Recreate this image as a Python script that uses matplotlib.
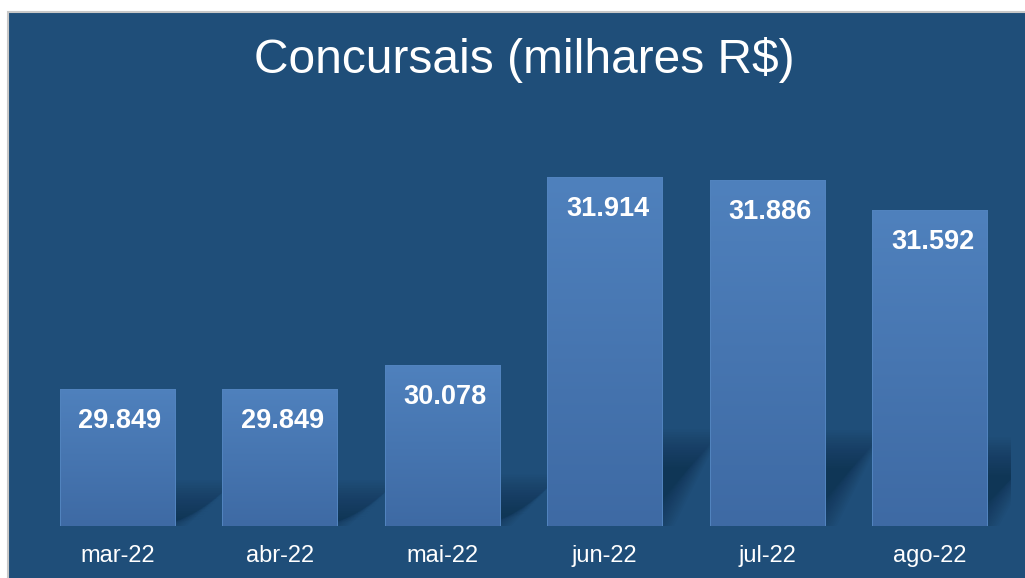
import numpy as np
import matplotlib
matplotlib.use("Agg")
import matplotlib.pyplot as plt
from matplotlib.patches import Rectangle, Polygon
from matplotlib.colors import LinearSegmentedColormap

# dados
meses = ["mar-22", "abr-22", "mai-22", "jun-22", "jul-22", "ago-22"]
valores = [29.849, 29.849, 30.078, 31.914, 31.886, 31.592]
rotulos = ["29.849", "29.849", "30.078", "31.914", "31.886", "31.592"]

plt.rcParams['font.family'] = ['Liberation Sans', 'DejaVu Sans']

W, H = 1025, 578
fig = plt.figure(figsize=(W / 100, H / 100), dpi=100)
fig.patch.set_facecolor("white")

# fundo azul com borda cinza
fundo = Rectangle((8 / W, -0.01), 1.0, 1 - 12 / H + 0.01, transform=fig.transFigure,
                  facecolor="#1F4E79", edgecolor="#C8C8C8", linewidth=1.5, zorder=-5)
fig.patches.append(fundo)

fig.text(0.512, 1 - 60 / H, "Concursais (milhares R$)", color="white",
         fontsize=34.5, ha="center", va="center")

ymin, ymax = 28.51, 32.2
ax = fig.add_axes([36 / W, 52 / H, (1011 - 36) / W, (526 - 148) / H])
ax.patch.set_visible(False)
for s in ax.spines.values():
    s.set_visible(False)

x = np.arange(len(meses))
larg = 0.71

# sombras (camadas para simular desfoque)
for xi, v in zip(x, valores):
    sh = 0.24 * (v - ymin)
    dx = 0.3
    x0, x1 = xi - larg / 2, xi + larg / 2
    for k in range(16):
        e = 0.014 * (k - 5)
        ey = 0.025 * (k - 5)
        pts = [(x0 + 0.1 + e, ymin), (x1 - e, ymin),
               (x1 + dx - e, ymin + sh - ey), (x0 + dx + 0.1 + e, ymin + sh - ey)]
        ax.add_patch(Polygon(pts, closed=True, facecolor="#0f2740",
                             edgecolor="none", alpha=0.045, zorder=1))

# barras com gradiente
cmap = LinearSegmentedColormap.from_list("g", ["#3E6AA4", "#4F81BD"])
grad = np.linspace(0, 1, 256).reshape(-1, 1)
barras = ax.bar(x, valores, width=larg, color="none", edgecolor="#5284BF",
                linewidth=0.7, zorder=3)
for b, v in zip(barras, valores):
    im = ax.imshow(grad, extent=[b.get_x(), b.get_x() + larg, ymin, v], origin="lower",
                   aspect="auto", cmap=cmap, zorder=2)
    im.set_clip_path(b)

for xi, v, r in zip(x, valores, rotulos):
    ax.annotate(r, (xi, v), xytext=(2, -23), textcoords="offset points",
                ha="center", va="center", color="white", fontsize=19.5,
                fontweight="bold", zorder=4)

ax.set_xlim(-0.5, len(meses) - 0.5)
ax.set_ylim(ymin, ymax)
ax.set_yticks([])
ax.set_xticks(x)
ax.set_xticklabels(meses, color="white", fontsize=17)
ax.tick_params(axis="x", length=0, pad=14)

fig.savefig("out.png", dpi=100, facecolor=fig.get_facecolor())
